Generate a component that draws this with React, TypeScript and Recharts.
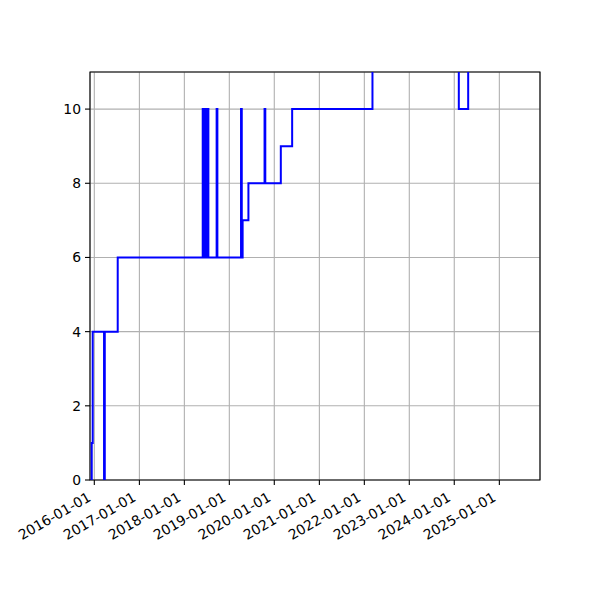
import React from "react";
import { LineChart, Line, XAxis, YAxis, CartesianGrid, ReferenceArea } from "recharts";

const dates: string[] = [
  "2015-12-10", "2015-12-11", "2015-12-19", "2016-03-20", "2016-03-26", "2016-07-09",
  "2018-05-30", "2018-06-05", "2018-06-12", "2018-06-18", "2018-06-25", "2018-07-01",
  "2018-07-08", "2018-07-15", "2018-09-20", "2018-09-26",
  "2019-04-06", "2019-04-12", "2019-04-19", "2019-06-05", "2019-10-14", "2019-10-20",
  "2020-02-23", "2020-05-25", "2022-03-08", "2024-02-07", "2024-04-23", "2025-11-01",
];
const values: number[] = [
  0, 1, 4, 0, 4, 6,
  10, 6, 10, 6, 10, 6,
  10, 6, 10, 6,
  10, 6, 7, 8, 10, 8,
  9, 10, 12, 10, 12, 12,
];
const xTickLabels: string[] = [
  "2016-01-01", "2017-01-01", "2018-01-01", "2019-01-01", "2020-01-01",
  "2021-01-01", "2022-01-01", "2023-01-01", "2024-01-01", "2025-01-01",
];
const yTicks: number[] = [0, 2, 4, 6, 8, 10];
const yDomain: number[] = [0, 11];
const xDomainLabels: string[] = ["2015-11-27", "2025-11-27"];

const toMs = (s: string) => Date.parse(s + "T00:00:00Z");
const data = dates.map((d, i) => ({ t: toMs(d), v: values[i] }));
const xTicks = xTickLabels.map(toMs);
const xDomain = xDomainLabels.map(toMs);

const FONT = "DejaVu Sans";
const FS = 13.9;

const fmt = (ms: number) => {
  const d = new Date(ms);
  const y = d.getUTCFullYear();
  const m = String(d.getUTCMonth() + 1).padStart(2, "0");
  const dd = String(d.getUTCDate()).padStart(2, "0");
  return `${y}-${m}-${dd}`;
};

const XTick = (props: any) => {
  const { x, y, payload } = props;
  return (
    <g transform={`translate(${x - 2.5},${y + 15})`}>
      <text
        transform="rotate(-30)"
        textAnchor="end"
        fill="#000"
        fontFamily={FONT}
        fontSize={FS}
      >
        {fmt(payload.value)}
      </text>
    </g>
  );
};

export default function App() {
  return (
    <div style={{ width: 600, height: 600, fontFamily: FONT, background: "#fff" }}>
      <LineChart
        width={600}
        height={600}
        data={data}
        margin={{ top: 64, right: 68, left: 0, bottom: 0 }}
      >
        <CartesianGrid stroke="#b0b0b0" strokeWidth={1.1} />
        <XAxis
          dataKey="t"
          type="number"
          domain={xDomain}
          ticks={xTicks}
          allowDataOverflow
          height={128}
          tickSize={5}
          tickMargin={0}
          tick={<XTick />}
          axisLine={false}
          tickLine={{ stroke: "#000", strokeWidth: 1.1 }}
          interval={0}
        />
        <YAxis
          type="number"
          domain={yDomain}
          ticks={yTicks}
          allowDataOverflow
          width={82}
          tickSize={5}
          tickMargin={4}
          tick={{ fill: "#000", fontFamily: FONT, fontSize: FS }}
          axisLine={false}
          tickLine={{ stroke: "#000", strokeWidth: 1.1 }}
          interval={0}
        />
        <Line
          type="stepAfter"
          dataKey="v"
          stroke="#0000ff"
          strokeWidth={2}
          dot={false}
          activeDot={false}
          isAnimationActive={false}
        />
        <ReferenceArea
          x1={xDomain[0]}
          x2={xDomain[1]}
          y1={yDomain[0]}
          y2={yDomain[1]}
          fill="none"
          fillOpacity={0}
          stroke="#000"
          strokeWidth={1.1}
          ifOverflow="visible"
        />
      </LineChart>
    </div>
  );
}
